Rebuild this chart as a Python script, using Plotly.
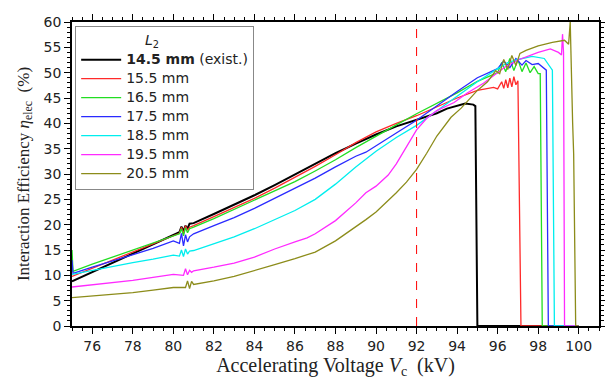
import plotly.graph_objects as go

# ---------------- data ----------------
names = ["<b>14.5 mm</b> (exist.)", "15.5 mm", "16.5 mm", "17.5 mm", "18.5 mm", "19.5 mm", "20.5 mm"]
colors = ["#000000", "#ff2a2a", "#22dd22", "#2a2aff", "#00eeee", "#ff2aff", "#8c8c1a"]
widths = [2.0, 1.3, 1.3, 1.3, 1.3, 1.3, 1.3]

x_145 = [75, 76, 77, 78, 79, 80, 80.3, 80.4, 80.5, 80.6, 80.7, 80.8, 81, 82, 83, 84, 85, 86, 87, 88, 89, 90, 91, 92, 93, 93.5, 94, 94.4, 94.8, 94.9, 95.0, 100]
y_145 = [8.8, 10.6, 12.4, 14.2, 16.0, 17.9, 18.5, 19.6, 18.7, 19.8, 19.2, 20.2, 20.3, 22.1, 23.9, 25.8, 27.8, 29.9, 32.0, 34.1, 36.0, 37.8, 39.4, 40.7, 42.0, 42.9, 43.5, 43.9, 43.7, 43.4, 0, 0]

x_155 = [75, 76, 77, 78, 79, 80, 80.3, 80.4, 80.5, 80.6, 80.7, 80.8, 81, 82, 83, 84, 85, 86, 87, 88, 89, 90, 91, 92, 93, 94, 95, 95.8, 96.0, 96.2, 96.3, 96.4, 96.5, 96.6, 96.7, 96.8, 96.9, 97.0, 97.15, 100]
y_155 = [9.8, 11.4, 13.0, 14.6, 16.2, 17.9, 18.3, 19.5, 18.2, 19.8, 18.9, 19.5, 19.8, 21.6, 23.4, 25.2, 27.2, 29.3, 31.5, 33.8, 36.2, 38.3, 40.0, 41.5, 43.3, 45.0, 46.5, 47.1, 46.8, 48.2, 46.9, 48.6, 47.0, 48.9, 47.2, 49.2, 47.6, 48.4, 0, 0]

x_165 = [75, 75.05, 76, 77, 78, 79, 80, 80.3, 80.4, 80.5, 80.6, 80.7, 80.8, 81, 82, 83, 84, 85, 86, 87, 88, 89, 90, 91, 92, 93, 94, 95, 96, 96.2, 96.4, 96.6, 96.8, 97.0, 97.2, 97.4, 97.6, 97.8, 98.0, 98.1, 98.2, 100]
y_165 = [15.0, 10.8, 12.2, 13.6, 15.0, 16.4, 17.9, 18.2, 19.2, 17.8, 19.4, 18.4, 19.2, 19.5, 21.2, 23.0, 24.8, 26.6, 28.5, 30.6, 32.8, 35.2, 37.5, 39.7, 41.9, 44.0, 46.0, 48.3, 50.0, 52.0, 50.2, 52.8, 50.4, 52.6, 50.2, 51.9, 50.0, 51.2, 49.8, 49.8, 0, 0]

x_175 = [75, 75.05, 76, 77, 78, 79, 80, 80.3, 80.4, 80.5, 80.6, 80.7, 80.8, 81, 82, 83, 84, 85, 86, 87, 88, 89, 89.5, 90, 91, 92, 93, 94, 95, 96, 96.3, 96.6, 96.9, 97.2, 97.4, 97.7, 98.0, 98.2, 98.4, 98.5, 100]
y_175 = [13.0, 10.4, 11.6, 12.8, 14.0, 15.3, 16.8, 16.3, 18.3, 15.8, 18.0, 16.6, 17.6, 18.2, 19.8, 21.4, 23.2, 25.2, 27.2, 29.2, 31.4, 33.5, 34.3, 35.6, 38.1, 40.6, 43.5, 46.3, 49.0, 50.8, 52.3, 51.0, 52.8, 51.5, 52.4, 51.6, 51.8, 51.2, 50.5, 0, 0]

x_185 = [75, 76, 77, 78, 79, 80, 80.3, 80.4, 80.5, 80.6, 80.7, 80.8, 81, 82, 83, 84, 85, 86, 87, 88, 89, 89.5, 90, 91, 92, 93, 94, 95, 96, 96.5, 97, 97.7, 98.3, 98.6, 98.7, 98.8, 100]
y_185 = [10.2, 11.0, 11.8, 12.5, 13.2, 14.0, 13.8, 15.0, 13.7, 15.2, 14.2, 14.8, 14.9, 16.2, 17.6, 19.2, 21.0, 22.8, 25.0, 28.0, 31.4, 33.0, 34.5, 37.2, 39.6, 42.5, 45.3, 48.2, 50.8, 52.0, 52.6, 53.2, 52.8, 51.1, 50.5, 0, 0]

x_195 = [75, 76, 77, 78, 79, 80, 80.5, 80.6, 80.7, 80.8, 80.9, 81, 82, 83, 84, 85, 86, 86.6, 87, 88, 89, 89.5, 90, 90.6, 91, 91.5, 92, 92.5, 93, 93.85, 94.5, 95.3, 96, 96.4, 97, 98, 98.6, 99.0, 99.15, 99.2, 99.25, 99.3, 100]
y_195 = [7.7, 8.1, 8.5, 9.0, 9.6, 10.2, 10.0, 11.3, 10.1, 11.0, 10.6, 10.9, 11.6, 12.4, 13.6, 15.2, 16.6, 17.4, 18.2, 20.8, 24.3, 26.3, 27.6, 29.8, 32.0, 35.3, 38.7, 41.0, 42.5, 44.1, 46.0, 47.9, 50.0, 51.2, 52.5, 54.0, 54.7, 54.0, 53.5, 57.6, 54.0, 0, 0]

x_205 = [75, 76, 77, 78, 79, 80, 80.6, 80.7, 80.8, 80.9, 81, 82, 83, 84, 85, 86, 87, 88, 89, 89.5, 90, 90.5, 91, 91.5, 92, 92.5, 93, 93.7, 94.2, 95, 95.5, 95.9, 96.1, 96.3, 96.5, 96.7, 96.9, 97.1, 97.4, 98, 98.7, 99.3, 99.5, 99.58, 99.62, 99.7, 99.75, 99.85, 100]
y_205 = [5.6, 5.9, 6.2, 6.6, 7.1, 7.6, 7.6, 8.9, 7.4, 8.8, 8.2, 8.9, 9.8, 10.9, 12.1, 13.3, 14.6, 16.8, 19.5, 21.0, 22.5, 24.3, 26.3, 28.4, 30.9, 34.1, 37.5, 41.2, 43.0, 46.5, 48.2, 50.4, 49.8, 52.6, 50.6, 53.4, 51.4, 53.8, 54.4, 55.3, 56.0, 56.4, 55.6, 60.0, 52.0, 40.0, 34.0, 0, 0]

xs = [x_145, x_155, x_165, x_175, x_185, x_195, x_205]
ys = [y_145, y_155, y_165, y_175, y_185, y_195, y_205]

x_mark = 92  # dashed reference voltage
x_ticks = [76, 78, 80, 82, 84, 86, 88, 90, 92, 94, 96, 98, 100]
y_ticks = [0, 5, 10, 15, 20, 25, 30, 35, 40, 45, 50, 55, 60]

# ---------------- figure ----------------
sans = "DejaVu Sans, Arial, sans-serif"
serif = "Liberation Serif, Times New Roman, serif"
txt = "#222222"

fig = go.Figure()
for x, y, n, c, w in zip(xs, ys, names, colors, widths):
    fig.add_trace(go.Scatter(x=x, y=y, mode="lines",
                             name='<span style="font-size:14px">' + n + '</span>',
                             line=dict(color=c, width=w)))

fig.add_shape(type="line", x0=x_mark, x1=x_mark, y0=0, y1=60, xref="x", yref="y",
              line=dict(color="#ff0000", width=1, dash="dash"))

# the page body has an 8px margin, so the figure is sized 8px smaller
fig.update_layout(
    width=605, height=371,
    margin=dict(l=64, r=7, t=6, b=53),
    paper_bgcolor="white", plot_bgcolor="white",
    font=dict(family=sans, size=14, color=txt),
    showlegend=True,
    legend=dict(
        x=0.006, y=0.987, xanchor="left", yanchor="top",
        bgcolor="white", bordercolor="#888", borderwidth=1,
        font=dict(family=sans, size=11, color=txt),
        title=dict(text="\u00a0" * 15 + "<i>L</i><sub>2</sub>",
                   font=dict(family=sans, size=14, color=txt)),
        itemwidth=40, tracegroupgap=0,
    ),
    xaxis=dict(
        range=[75, 101], tickvals=x_ticks, showgrid=False, zeroline=False,
        showline=True, linecolor="black", linewidth=1.5, mirror="allticks",
        ticks="outside", ticklen=6, tickwidth=1.2, tickcolor="black",
        minor=dict(ticks="outside", ticklen=3, dtick=0.5, tickcolor="black", showgrid=False),
        tickfont=dict(family=sans, size=14, color=txt),
        title=dict(text="Accelerating Voltage <i>V</i><sub>c</sub>  (kV)",
                   font=dict(family=serif, size=20, color=txt), standoff=3),
    ),
    yaxis=dict(
        range=[0, 60], tickvals=y_ticks, showgrid=False, zeroline=False,
        showline=True, linecolor="black", linewidth=1.5, mirror="allticks",
        ticks="outside", ticklen=6, tickwidth=1.2, tickcolor="black",
        minor=dict(ticks="outside", ticklen=3, dtick=1, tickcolor="black", showgrid=False),
        tickfont=dict(family=sans, size=14, color=txt),
        title=dict(text="Interaction Efficiency <i>η</i><sub>elec</sub>  (%)",
                   font=dict(family=serif, size=17, color=txt), standoff=10),
    ),
)

fig.write_html("out.html")
